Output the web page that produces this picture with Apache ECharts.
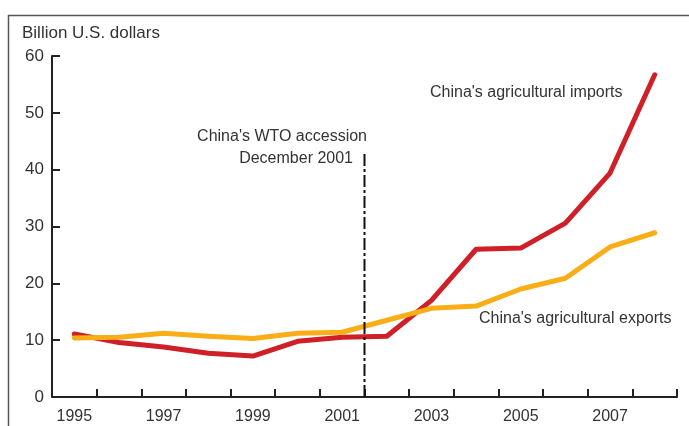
<!DOCTYPE html>
<html>
<head>
<meta charset="utf-8">
<script src="https://cdn.jsdelivr.net/npm/echarts@6/dist/echarts.min.js"></script>
<style>
html,body{margin:0;padding:0;background:#fff;}
#chart{width:689px;height:426px;}
</style>
</head>
<body>
<div id="chart"></div>
<script>
var years = ['1995','1996','1997','1998','1999','2000','2001','2002','2003','2004','2005','2006','2007','2008'];
var imports = [11.1, 9.6, 8.8, 7.7, 7.2, 9.8, 10.5, 10.7, 17.0, 26.0, 26.2, 30.6, 39.4, 56.7];
var exports = [10.4, 10.5, 11.2, 10.7, 10.3, 11.2, 11.4, 13.5, 15.6, 16.0, 19.0, 20.9, 26.4, 28.9];
var yTicks = [0, 10, 20, 30, 40, 50, 60];
var wtoX = 2001.5;
var wtoTop = 43;

var chart = echarts.init(document.getElementById('chart'), null, {renderer: 'canvas'});
var FONT = 'Liberation Sans, Arial, sans-serif';
var option = {
  animation: false,
  backgroundColor: '#fff',
  title: {
    text: 'Billion U.S. dollars',
    left: 22, top: 25, padding: 0,
    textStyle: {fontFamily: FONT, fontSize: 17, fontWeight: 'normal', color: '#333'}
  },
  grid: {left: 52, right: 12, top: 56, bottom: 29, containLabel: false},
  xAxis: [{
    type: 'category',
    data: years,
    boundaryGap: true,
    axisLine: {show: true, lineStyle: {color: '#222', width: 2}},
    axisTick: {show: true, inside: true, length: 8, interval: 0, lineStyle: {color: '#222', width: 2}},
    axisLabel: {interval: 1, margin: 12, fontFamily: FONT, fontSize: 16, color: '#333'},
    splitLine: {show: false}
  }, {
    type: 'value',
    min: 1994.5, max: 2008.5,
    show: false
  }],
  yAxis: {
    type: 'value',
    min: yTicks[0], max: yTicks[yTicks.length - 1], interval: 10,
    axisLine: {show: true, lineStyle: {color: '#222', width: 2}},
    axisTick: {show: true, inside: true, length: 8, lineStyle: {color: '#222', width: 2}},
    axisLabel: {margin: 8, fontFamily: FONT, fontSize: 17, color: '#333'},
    splitLine: {show: false}
  },
  series: [{
    name: "China's agricultural imports",
    type: 'line',
    data: imports,
    symbol: 'none',
    lineStyle: {color: '#cf2027', width: 5, join: 'round', cap: 'round'},
    z: 3
  }, {
    name: "China's agricultural exports",
    type: 'line',
    data: exports,
    symbol: 'none',
    lineStyle: {color: '#f9ae17', width: 5, join: 'round', cap: 'round'},
    z: 4
  }, {
    name: 'WTO',
    type: 'line',
    xAxisIndex: 1,
    data: [[wtoX, 0], [wtoX, wtoTop]],
    symbol: 'none',
    lineStyle: {color: '#111', width: 2, type: [12, 3, 3, 3]},
    z: 5
  }],
  graphic: [{
    type: 'rect',
    left: 6, top: 13,
    shape: {width: 700, height: 500},
    style: {fill: 'none', stroke: '#555', lineWidth: 1.5},
    z: -1
  }, {
    type: 'text',
    right: 689 - 367, top: 129,
    style: {text: "China's WTO accession", font: '16px ' + FONT, fill: '#333', textAlign: 'right'}
  }, {
    type: 'text',
    right: 689 - 353, top: 151,
    style: {text: 'December 2001', font: '16px ' + FONT, fill: '#333', textAlign: 'right'}
  }, {
    type: 'text',
    left: 430, top: 85,
    style: {text: "China's agricultural imports", font: '16px ' + FONT, fill: '#333'}
  }, {
    type: 'text',
    left: 479, top: 311,
    style: {text: "China's agricultural exports", font: '16px ' + FONT, fill: '#333'}
  }]
};
chart.setOption(option);
</script>
</body>
</html>
